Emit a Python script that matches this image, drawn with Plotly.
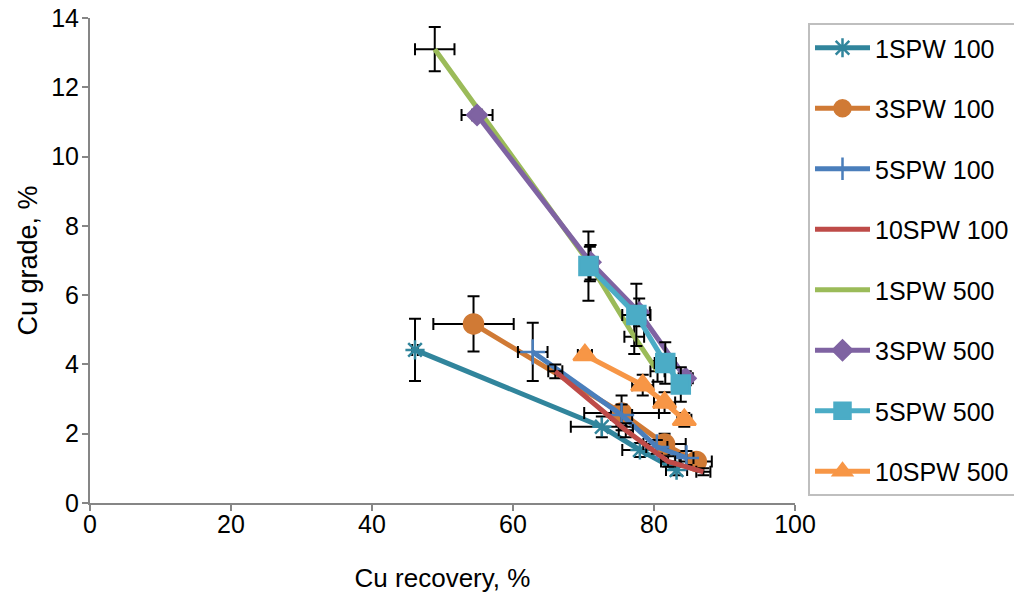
import plotly.graph_objects as go

# ---- data ----
names = ["1SPW 100", "3SPW 100", "5SPW 100", "10SPW 100",
         "1SPW 500", "3SPW 500", "5SPW 500", "10SPW 500"]

rec_1spw100 = [46.1, 72.6, 78.0, 83.2]
grd_1spw100 = [4.42, 2.20, 1.53, 0.95]
erx_1spw100 = [0.4, 4.4, 2.5, 1.5]
ery_1spw100 = [0.90, 0.30, 0.20, 0.15]

rec_3spw100 = [54.4, 75.4, 81.5, 86.0]
grd_3spw100 = [5.17, 2.60, 1.70, 1.20]
erx_3spw100 = [5.7, 5.3, 3.0, 2.2]
ery_3spw100 = [0.80, 0.50, 0.30, 0.20]

rec_5spw100 = [62.8, 75.4, 80.4, 84.6]
grd_5spw100 = [4.36, 2.54, 1.62, 1.30]
erx_5spw100 = [2.1, 1.5, 1.5, 1.0]
ery_5spw100 = [0.84, 0.30, 0.20, 0.20]

rec_10spw100 = [66.0, 76.0, 82.0, 87.0]
grd_10spw100 = [3.80, 2.10, 1.20, 0.90]
erx_10spw100 = [1.0, 1.0, 1.0, 1.0]
ery_10spw100 = [0.20, 0.20, 0.15, 0.10]

rec_1spw500 = [48.9, 70.9, 77.2, 80.5]
grd_1spw500 = [13.10, 6.90, 4.80, 3.80]
erx_1spw500 = [2.8, 1.0, 1.4, 1.0]
ery_1spw500 = [0.64, 0.50, 0.50, 0.30]

rec_3spw500 = [54.9, 71.0, 77.9, 84.5]
grd_3spw500 = [11.20, 6.95, 5.50, 3.60]
erx_3spw500 = [2.2, 1.0, 1.5, 1.0]
ery_3spw500 = [0.15, 0.50, 0.40, 0.20]

rec_5spw500 = [70.7, 77.5, 81.6, 83.8]
grd_5spw500 = [6.84, 5.43, 4.04, 3.42]
erx_5spw500 = [1.0, 2.0, 1.5, 1.2]
ery_5spw500 = [1.00, 0.90, 0.60, 0.50]

rec_10spw500 = [70.2, 78.4, 81.5, 84.3]
grd_10spw500 = [4.27, 3.40, 2.90, 2.40]
erx_10spw500 = [1.0, 1.5, 1.5, 1.0]
ery_10spw500 = [0.10, 0.30, 0.30, 0.20]

x_ticks = [0, 20, 40, 60, 80, 100]
y_ticks = [0, 2, 4, 6, 8, 10, 12, 14]

series = [
    (rec_1spw100, grd_1spw100, erx_1spw100, ery_1spw100),
    (rec_3spw100, grd_3spw100, erx_3spw100, ery_3spw100),
    (rec_5spw100, grd_5spw100, erx_5spw100, ery_5spw100),
    (rec_10spw100, grd_10spw100, erx_10spw100, ery_10spw100),
    (rec_1spw500, grd_1spw500, erx_1spw500, ery_1spw500),
    (rec_3spw500, grd_3spw500, erx_3spw500, ery_3spw500),
    (rec_5spw500, grd_5spw500, erx_5spw500, ery_5spw500),
    (rec_10spw500, grd_10spw500, erx_10spw500, ery_10spw500),
]

# ---- styles ----
colors = ["#31859C", "#D07A35", "#4A7EBB", "#BE4B48",
          "#9BBB59", "#7F63A2", "#4BACC6", "#F79646"]
symbols = ["asterisk-open", "circle", "cross-thin-open", None,
           None, "diamond", "square", "triangle-up"]
sizes = [16, 19, 18, 0, 0, 15, 18, 20]

FONT = "Liberation Sans, Arial, sans-serif"

fig = go.Figure()
for i, (xs, ys, ex, ey) in enumerate(series):
    sym = symbols[i]
    mode = "lines+markers" if sym else "lines"
    marker = None
    if sym:
        marker = dict(symbol=sym, size=sizes[i], color=colors[i],
                      line=dict(color=colors[i], width=2.5))
    fig.add_trace(go.Scatter(
        x=xs, y=ys, name=names[i], mode=mode,
        line=dict(color=colors[i], width=5),
        marker=marker,
        legendgroup=names[i],
        error_x=dict(type="data", array=ex, color="black", thickness=2, width=6),
        error_y=dict(type="data", array=ey, color="black", thickness=2, width=6),
    ))

fig.update_layout(
    width=1014, height=593,
    margin=dict(l=90, r=218.5, t=18, b=90, autoexpand=False),
    paper_bgcolor="white", plot_bgcolor="white",
    font=dict(family=FONT, size=24, color="black"),
    showlegend=True,
    legend=dict(
        xref="container", yref="container",
        x=808/1014, y=1-23/593, xanchor="left", yanchor="top",
        bordercolor="#BFBFBF", borderwidth=2, bgcolor="white",
        font=dict(family=FONT, size=25, color="black"),
        tracegroupgap=25, itemwidth=55, maxheight=593,
    ),
    xaxis=dict(
        range=[0, 100], tickvals=x_ticks, showgrid=False, zeroline=False,
        showline=True, linecolor="#868686", linewidth=2, automargin=False,
        ticks="outside", ticklen=6, tickcolor="#868686", tickwidth=2,
        ticklabelstandoff=-8,
        title=dict(text="Cu recovery, %", standoff=32, font=dict(size=26)),
        tickfont=dict(size=25),
    ),
    yaxis=dict(
        range=[0, 14], tickvals=y_ticks, showgrid=False, zeroline=False,
        showline=True, linecolor="#868686", linewidth=2, automargin=False,
        ticks="outside", ticklen=6, tickcolor="#868686", tickwidth=2,
        ticklabelstandoff=-2,
        title=dict(text="Cu grade, %", standoff=6, font=dict(size=27)),
        tickfont=dict(size=25),
    ),
)

fig.write_html("out.html")
